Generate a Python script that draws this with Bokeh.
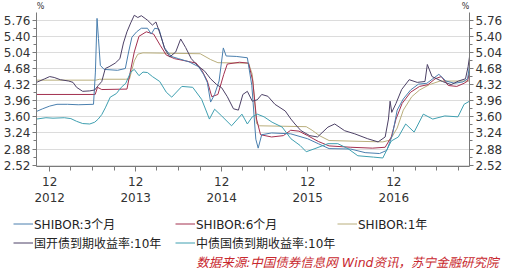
import pandas as pd
from bokeh.plotting import figure
from bokeh.layouts import column
from bokeh.models import (LinearAxis, Range1d, FixedTicker, Legend, LegendItem,
                          Label, NumeralTickFormatter)
from bokeh.embed import file_html
from bokeh.resources import INLINE

# ---------------- data ----------------
shibor3m_dates = ["2012-10-06", "2012-11-01", "2012-12-01", "2013-01-01", "2013-02-15", "2013-04-01",
                  "2013-06-05", "2013-06-13", "2013-06-20", "2013-06-26", "2013-07-04", "2013-07-20",
                  "2013-09-15", "2013-10-18", "2013-11-01", "2013-11-15", "2013-12-05", "2013-12-25",
                  "2014-01-20", "2014-02-05", "2014-02-20", "2014-03-10", "2014-04-01", "2014-05-01",
                  "2014-06-01", "2014-07-15", "2014-08-25", "2014-09-15", "2014-10-01", "2014-10-15",
                  "2014-11-01", "2014-11-20", "2014-12-08", "2014-12-20", "2015-02-01", "2015-03-20",
                  "2015-04-08", "2015-04-25", "2015-05-05", "2015-05-20", "2015-07-01", "2015-09-20",
                  "2015-12-01", "2016-01-15", "2016-03-01", "2016-06-01", "2016-08-01", "2016-10-01",
                  "2016-11-01", "2016-11-25", "2016-12-15", "2017-01-10", "2017-02-10", "2017-03-15",
                  "2017-04-20", "2017-05-15", "2017-06-10", "2017-07-10", "2017-08-15", "2017-09-20",
                  "2017-10-10", "2017-10-18"]
shibor3m_vals = [3.72, 3.78, 3.84, 3.88, 3.88, 3.87,
                 3.88, 4.60, 5.80, 5.35, 4.75, 4.66,
                 4.64, 4.68, 5.05, 5.38, 5.50, 5.58,
                 5.58, 5.45, 5.58, 5.56, 5.15, 4.95,
                 4.90, 4.83, 4.72, 4.55, 4.37, 3.93,
                 4.10, 4.40, 5.14, 4.96, 4.95, 4.92,
                 4.30, 3.10, 2.90, 3.20, 3.24, 3.22,
                 3.11, 3.00, 2.89, 2.88, 2.80, 2.78,
                 2.85, 3.20, 3.75, 4.00, 4.20, 4.33,
                 4.35, 4.45, 4.55, 4.40, 4.35, 4.38,
                 4.45, 4.75]

shibor6m_dates = ["2012-10-06", "2013-06-12", "2013-06-22", "2013-07-10", "2013-10-25", "2013-11-08",
                  "2013-11-25", "2013-12-15", "2014-01-15", "2014-02-15", "2014-03-15", "2014-04-10",
                  "2014-05-15", "2014-07-01", "2014-08-15", "2014-09-10", "2014-10-01", "2014-10-20",
                  "2014-11-15", "2014-12-10", "2014-12-25", "2015-02-15", "2015-03-25", "2015-04-12",
                  "2015-04-28", "2015-05-15", "2015-07-01", "2015-08-20", "2015-09-20", "2015-10-25",
                  "2015-12-01", "2016-01-15", "2016-03-01", "2016-06-01", "2016-09-01", "2016-10-25",
                  "2016-11-20", "2016-12-10", "2017-01-05", "2017-02-10", "2017-03-20", "2017-04-25",
                  "2017-05-25", "2017-06-20", "2017-07-20", "2017-08-25", "2017-09-25", "2017-10-10",
                  "2017-10-18"]
shibor6m_vals = [4.10, 4.10, 4.26, 4.21, 4.22, 4.60,
                 5.05, 5.40, 5.50, 5.45, 5.20, 4.98,
                 4.90, 4.85, 4.80, 4.62, 4.40, 4.05,
                 4.10, 4.55, 4.78, 4.82, 4.80, 4.40,
                 3.55, 3.20, 3.15, 3.18, 3.30, 3.28,
                 3.18, 3.05, 2.95, 2.92, 2.90, 2.92,
                 3.15, 3.55, 3.90, 4.15, 4.28, 4.32,
                 4.45, 4.50, 4.30, 4.28, 4.35, 4.40,
                 4.60]

shibor1y_dates = ["2012-10-06", "2013-06-15", "2013-07-01", "2013-10-20", "2013-11-05", "2013-11-25",
                  "2013-12-10", "2014-01-01", "2014-09-01", "2014-10-15", "2014-11-15", "2015-03-25",
                  "2015-04-10", "2015-04-28", "2015-05-10", "2015-11-25", "2015-12-20", "2016-01-20",
                  "2016-03-01", "2016-10-15", "2016-11-15", "2016-12-15", "2017-01-10", "2017-02-15",
                  "2017-03-20", "2017-05-01", "2017-06-15", "2017-10-18"]
shibor1y_vals = [4.42, 4.42, 4.44, 4.44, 4.45, 4.85,
                 5.00, 5.03, 5.01, 4.88, 4.81, 4.80,
                 4.55, 3.45, 3.40, 3.38, 3.30, 3.18,
                 3.07, 3.04, 3.08, 3.35, 3.75, 4.05,
                 4.20, 4.32, 4.40, 4.40]

cdb10y_dates = ["2012-10-06", "2012-11-10", "2012-12-01", "2012-12-20", "2013-01-15", "2013-02-20",
                "2013-03-10", "2013-03-25", "2013-04-20", "2013-05-20", "2013-06-10", "2013-06-25",
                "2013-07-10", "2013-07-25", "2013-08-10", "2013-09-05", "2013-09-25", "2013-10-10",
                "2013-10-25", "2013-11-10", "2013-11-25", "2013-12-10", "2013-12-25", "2014-01-10",
                "2014-01-20", "2014-02-10", "2014-02-25", "2014-03-15", "2014-04-05", "2014-04-25",
                "2014-05-20", "2014-06-10", "2014-07-01", "2014-07-25", "2014-08-20", "2014-09-20",
                "2014-10-15", "2014-11-10", "2014-12-01", "2014-12-25", "2015-01-20", "2015-02-10",
                "2015-03-01", "2015-03-20", "2015-04-10", "2015-05-01", "2015-05-20", "2015-06-15",
                "2015-07-15", "2015-08-28", "2015-09-21", "2015-10-08", "2015-11-03", "2015-12-10",
                "2016-01-12", "2016-02-25", "2016-03-25", "2016-05-06", "2016-06-18", "2016-08-12",
                "2016-09-25", "2016-10-25", "2016-11-08", "2016-11-15", "2016-11-22", "2016-12-10",
                "2017-01-03", "2017-02-04", "2017-03-10", "2017-04-12", "2017-04-22", "2017-05-12",
                "2017-06-25", "2017-08-01", "2017-09-01", "2017-10-01", "2017-10-12", "2017-10-18"]
cdb10y_vals = [4.37, 4.45, 4.50, 4.48, 4.43, 4.40,
               4.37, 4.26, 4.17, 4.18, 4.20, 4.30,
               4.39, 4.68, 4.72, 4.80, 4.90, 5.25,
               5.50, 5.70, 5.87, 5.82, 5.86, 5.80,
               5.76, 5.65, 5.72, 5.45, 5.10, 4.94,
               5.05, 5.34, 5.15, 4.90, 4.75, 4.62,
               4.45, 4.32, 4.25, 4.05, 3.78, 3.75,
               4.10, 4.17, 3.95, 3.98, 4.10, 4.06,
               3.88, 3.73, 3.55, 3.44, 3.29, 3.18,
               3.15, 3.37, 3.44, 3.29, 3.22, 3.11,
               3.04, 3.15, 3.55, 3.95, 3.70, 3.90,
               4.21, 4.43, 4.37, 4.39, 4.77, 4.50,
               4.39, 4.32, 4.40, 4.45, 4.72, 4.94]

cgb10y_dates = ["2012-10-06", "2012-11-15", "2012-12-15", "2013-02-01", "2013-03-01", "2013-03-25",
                "2013-04-20", "2013-05-20", "2013-06-10", "2013-06-25", "2013-07-10", "2013-07-25",
                "2013-08-15", "2013-09-10", "2013-10-01", "2013-10-20", "2013-11-10", "2013-11-25",
                "2013-12-15", "2014-01-01", "2014-01-20", "2014-02-10", "2014-03-13", "2014-04-10",
                "2014-05-03", "2014-06-15", "2014-07-31", "2014-09-07", "2014-10-10", "2014-11-01",
                "2014-12-01", "2015-01-12", "2015-02-25", "2015-03-20", "2015-04-10", "2015-05-01",
                "2015-05-30", "2015-07-03", "2015-08-15", "2015-09-21", "2015-10-30", "2015-11-25",
                "2016-01-01", "2016-02-25", "2016-04-07", "2016-05-20", "2016-07-01", "2016-09-05",
                "2016-10-15", "2016-11-20", "2016-12-20", "2017-01-20", "2017-02-25", "2017-04-05",
                "2017-05-15", "2017-07-05", "2017-08-30", "2017-09-25", "2017-10-18"]
cgb10y_vals = [3.55, 3.58, 3.57, 3.58, 3.56, 3.50,
               3.45, 3.44, 3.48, 3.55, 3.65, 3.80,
               4.04, 4.12, 4.26, 4.35, 4.60, 4.66,
               4.52, 4.60, 4.59, 4.50, 4.39, 4.15,
               4.04, 4.28, 4.26, 3.99, 3.55, 3.77,
               3.62, 3.40, 3.66, 3.44, 3.60, 3.66,
               3.60, 3.48, 3.37, 3.11, 2.96, 2.82,
               2.89, 3.00, 3.00, 2.89, 2.73, 2.70,
               2.68, 3.06, 3.15, 3.44, 3.26, 3.66,
               3.55, 3.62, 3.60, 3.88, 3.95]

series_names = ["SHIBOR:3个月", "SHIBOR:6个月", "SHIBOR:1年",
                "国开债到期收益率:10年", "中债国债到期收益率:10年"]

y_ticks = [2.52, 2.88, 3.24, 3.60, 3.96, 4.32, 4.68, 5.04, 5.40, 5.76]
x_tick_dates = ["2012-12-01", "2013-12-01", "2014-12-01", "2015-12-01", "2016-12-01"]
x_tick_labels = ["12\n2012", "12\n2013", "12\n2014", "12\n2015", "12\n2016"]
unit_label = "%"
source_text = "数据来源:中国债券信息网  Wind资讯，苏宁金融研究院"

# ---------------- styling ----------------
colors = ["#4a7fae", "#a3304f", "#b9ae7c", "#4d4166", "#3f9fb0"]
FONT = "DejaVu Sans, Noto Sans CJK SC"


def ms(d):
    return pd.Timestamp(d).value / 1e6


x_start = pd.Timestamp("2012-10-06")
x_end = pd.Timestamp("2017-10-18")
Y0, Y1 = 2.49, 6.20          # frame reaches the top of the canvas
AXIS_TOP = 5.94              # axis lines stop here, as in the reference

p = figure(width=505, height=208, x_axis_type="datetime", output_backend="svg",
           toolbar_location=None, x_range=Range1d(x_start, x_end),
           y_range=Range1d(Y0, Y1), frame_align=False,
           min_border_left=35, min_border_right=32, min_border_top=0, min_border_bottom=40)
p.outline_line_color = None
p.background_fill_color = "white"
p.border_fill_color = "white"

all_series = [(shibor3m_dates, shibor3m_vals), (shibor6m_dates, shibor6m_vals),
              (shibor1y_dates, shibor1y_vals), (cdb10y_dates, cdb10y_vals),
              (cgb10y_dates, cgb10y_vals)]
draw_order = [2, 1, 0, 4, 3]
for i in draw_order:
    d, v = all_series[i]
    p.line(pd.to_datetime(d), v, line_color=colors[i], line_width=1)

# y axes
y_minor = [t + 0.18 for t in y_ticks[:-1]]
p.yaxis.ticker = FixedTicker(ticks=y_ticks, minor_ticks=y_minor)
p.yaxis.formatter = NumeralTickFormatter(format="0.00")
right = LinearAxis(ticker=FixedTicker(ticks=y_ticks, minor_ticks=y_minor),
                   formatter=NumeralTickFormatter(format="0.00"))
p.add_layout(right, "right")
for ax in [p.yaxis[0], right]:
    ax.bounds = (Y0, AXIS_TOP)
    ax.axis_line_color = "#7a7a7a"
    ax.major_tick_line_color = "#7a7a7a"
    ax.minor_tick_line_color = "#7a7a7a"
    ax.major_tick_in = 0
    ax.major_tick_out = 4
    ax.minor_tick_in = 0
    ax.minor_tick_out = 3
    ax.major_label_text_font = FONT
    ax.major_label_text_font_size = "12px"
    ax.major_label_text_color = "#333333"
    ax.major_label_standoff = 2

# x axis
xt = [ms(d) for d in x_tick_dates]
x_minor = [ms(d) for d in pd.date_range("2012-12-01", "2017-10-01", freq="3MS")]
xa = p.xaxis[0]
xa.ticker = FixedTicker(ticks=xt, minor_ticks=x_minor)
xa.major_label_overrides = {t: lab for t, lab in zip(xt, x_tick_labels)}
xa.axis_line_color = "#7a7a7a"
xa.major_tick_line_color = "#7a7a7a"
xa.minor_tick_line_color = "#7a7a7a"
xa.major_tick_in = 0
xa.major_tick_out = 5
xa.minor_tick_in = 0
xa.minor_tick_out = 4
xa.major_label_text_font = FONT
xa.major_label_text_font_size = "12px"
xa.major_label_text_color = "#333333"
xa.major_label_standoff = 3

p.xgrid.grid_line_color = None
p.ygrid.ticker = FixedTicker(ticks=y_ticks)
p.ygrid.grid_line_color = "#dcdcdc"

# % unit marks at the top of both axes
for xv, off in [(x_start, 4), (x_end, -4)]:
    p.add_layout(Label(x=ms(xv), y=AXIS_TOP, text=unit_label, x_offset=off, y_offset=1,
                       text_font_size="8px", text_align="center", text_baseline="bottom",
                       text_color="#333333", text_font=FONT))

# ---------------- legend + source strip ----------------
p2 = figure(width=505, height=63, output_backend="svg", toolbar_location=None,
            x_range=Range1d(0, 505), y_range=Range1d(0, 63), frame_align=False,
            x_axis_location=None, y_axis_location=None, min_border=0,
            min_border_left=0, min_border_right=0, min_border_top=0, min_border_bottom=0)
p2.outline_line_color = None
p2.grid.grid_line_color = None
p2.border_fill_color = "white"

# legend keys: one-point lines (first value of each series, outside this strip's view)
keys = []
for i in range(5):
    d, v = all_series[i]
    keys.append(p2.line([ms(d[0])], [v[0]], line_color=colors[i], line_width=1))
items = [LegendItem(label=series_names[i], renderers=[keys[i]]) for i in range(5)]
legend = Legend(items=items, orientation="horizontal", ncols=3,
                location=(13, 19), glyph_width=20, glyph_height=19, label_standoff=1,
                label_width=141, label_height=19, spacing=0, padding=0, margin=0,
                border_line_alpha=0, background_fill_alpha=0,
                label_text_font=FONT, label_text_font_size="12px", label_text_color="#222222")
p2.add_layout(legend, "center")

p2.add_layout(Label(x=502, y=9, text=source_text, text_align="right", text_baseline="middle",
                    text_color="#c8282e", text_font_style="italic", text_font=FONT,
                    text_font_size="12.5px"))

open("out.html", "w").write(file_html(column(p, p2, spacing=0), INLINE))
